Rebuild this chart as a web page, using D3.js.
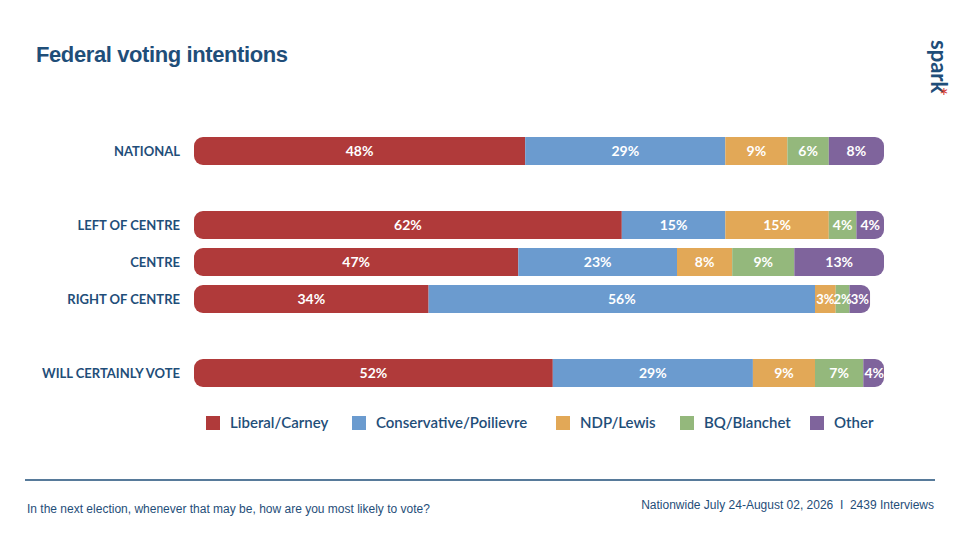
<!DOCTYPE html>
<html><head><meta charset="utf-8">
<script src="https://cdn.jsdelivr.net/npm/d3@7"></script>
<style>body{margin:0;background:#fff;font-family:Lato,"Open Sans",sans-serif}</style>
</head><body><svg id="c" width="960" height="540"></svg>
<script>
const categories = ["NATIONAL","LEFT OF CENTRE","CENTRE","RIGHT OF CENTRE","WILL CERTAINLY VOTE"];
const seriesNames = ["Liberal/Carney","Conservative/Poilievre","NDP/Lewis","BQ/Blanchet","Other"];
const liberal = [48,62,47,34,52];
const conservative = [29,15,23,56,29];
const ndp = [9,15,8,3,9];
const bq = [6,4,9,2,7];
const other = [8,4,13,3,4];
const colors = ["#b03a3a","#6b9bcf","#e2a857","#94b87c","#7f649c"];
const series = [liberal,conservative,ndp,bq,other];

const svg = d3.select("#c");
const x = d3.scaleLinear().domain([0,100]).range([194,884]).clamp(true);
const y = d3.scaleOrdinal().domain(categories).range([151,225,262,299,373]);
const bh = 28;

svg.append("text").attr("x",36).attr("y",62).text("Federal voting intentions")
  .attr("font-size",22).attr("font-weight",700).attr("fill","#1f4e79").attr("letter-spacing",-0.4)
  .attr("font-family","Liberation Sans, Arial");
svg.append("text").attr("transform","translate(931,40) rotate(90)").text("spark")
  .attr("font-size",22).attr("font-weight",700).attr("fill","#1f4e79");
svg.append("text").attr("x",944).attr("y",104).text("*").attr("font-size",22).attr("fill","#d63a2f").attr("text-anchor","middle");

const defs = svg.append("defs");
categories.forEach((c,i)=>{
  const total = d3.sum(series,s=>s[i]);
  defs.append("clipPath").attr("id","cl"+i).append("rect")
    .attr("x",x(0)).attr("y",y(c)-bh/2).attr("width",x(total)-x(0)).attr("height",bh).attr("rx",9);
  const g = svg.append("g").attr("clip-path","url(#cl"+i+")");
  let acc = 0;
  series.forEach((s,k)=>{
    const v = s[i];
    g.append("rect").attr("x",x(acc)).attr("y",y(c)-bh/2).attr("width",Math.max(0,x(acc+v)-x(acc))).attr("height",bh).attr("fill",colors[k]);
    const cx = acc+v>100 ? x(acc)+11 : (x(acc)+x(acc+v))/2;
    svg.append("text").attr("x",cx).attr("y",y(c)+5).attr("text-anchor","middle")
      .attr("font-size",v<=3?13:14).attr("font-weight",700).attr("fill","#fff").text(v+"%");
    acc += v;
  });
  svg.append("text").attr("x",180).attr("y",y(c)+5).attr("text-anchor","end")
    .attr("font-size",13).attr("font-weight",700).attr("fill","#1f4e79").text(c);
});

const lx = [206,352,556,680,810];
seriesNames.forEach((n,k)=>{
  svg.append("rect").attr("x",lx[k]).attr("y",416).attr("width",14).attr("height",14).attr("fill",colors[k]);
  svg.append("text").attr("x",lx[k]+24).attr("y",428).attr("font-size",15).attr("font-weight",600).attr("fill","#1f4e79").text(n);
});

svg.append("line").attr("x1",25).attr("x2",935).attr("y1",480).attr("y2",480).attr("stroke","#1f4e79").attr("stroke-width",1.5);
svg.append("text").attr("x",27).attr("y",513).attr("font-size",12).attr("fill","#1f4e79").attr("font-family","Liberation Sans, Arial").text("In the next election, whenever that may be, how are you most likely to vote?");
svg.append("text").attr("x",934).attr("y",509).attr("text-anchor","end").attr("font-size",12).attr("fill","#1f4e79").attr("font-family","Liberation Sans, Arial").attr("xml:space","preserve").text("Nationwide July 24-August 02, 2026  I  2439 Interviews");
</script></body></html>
